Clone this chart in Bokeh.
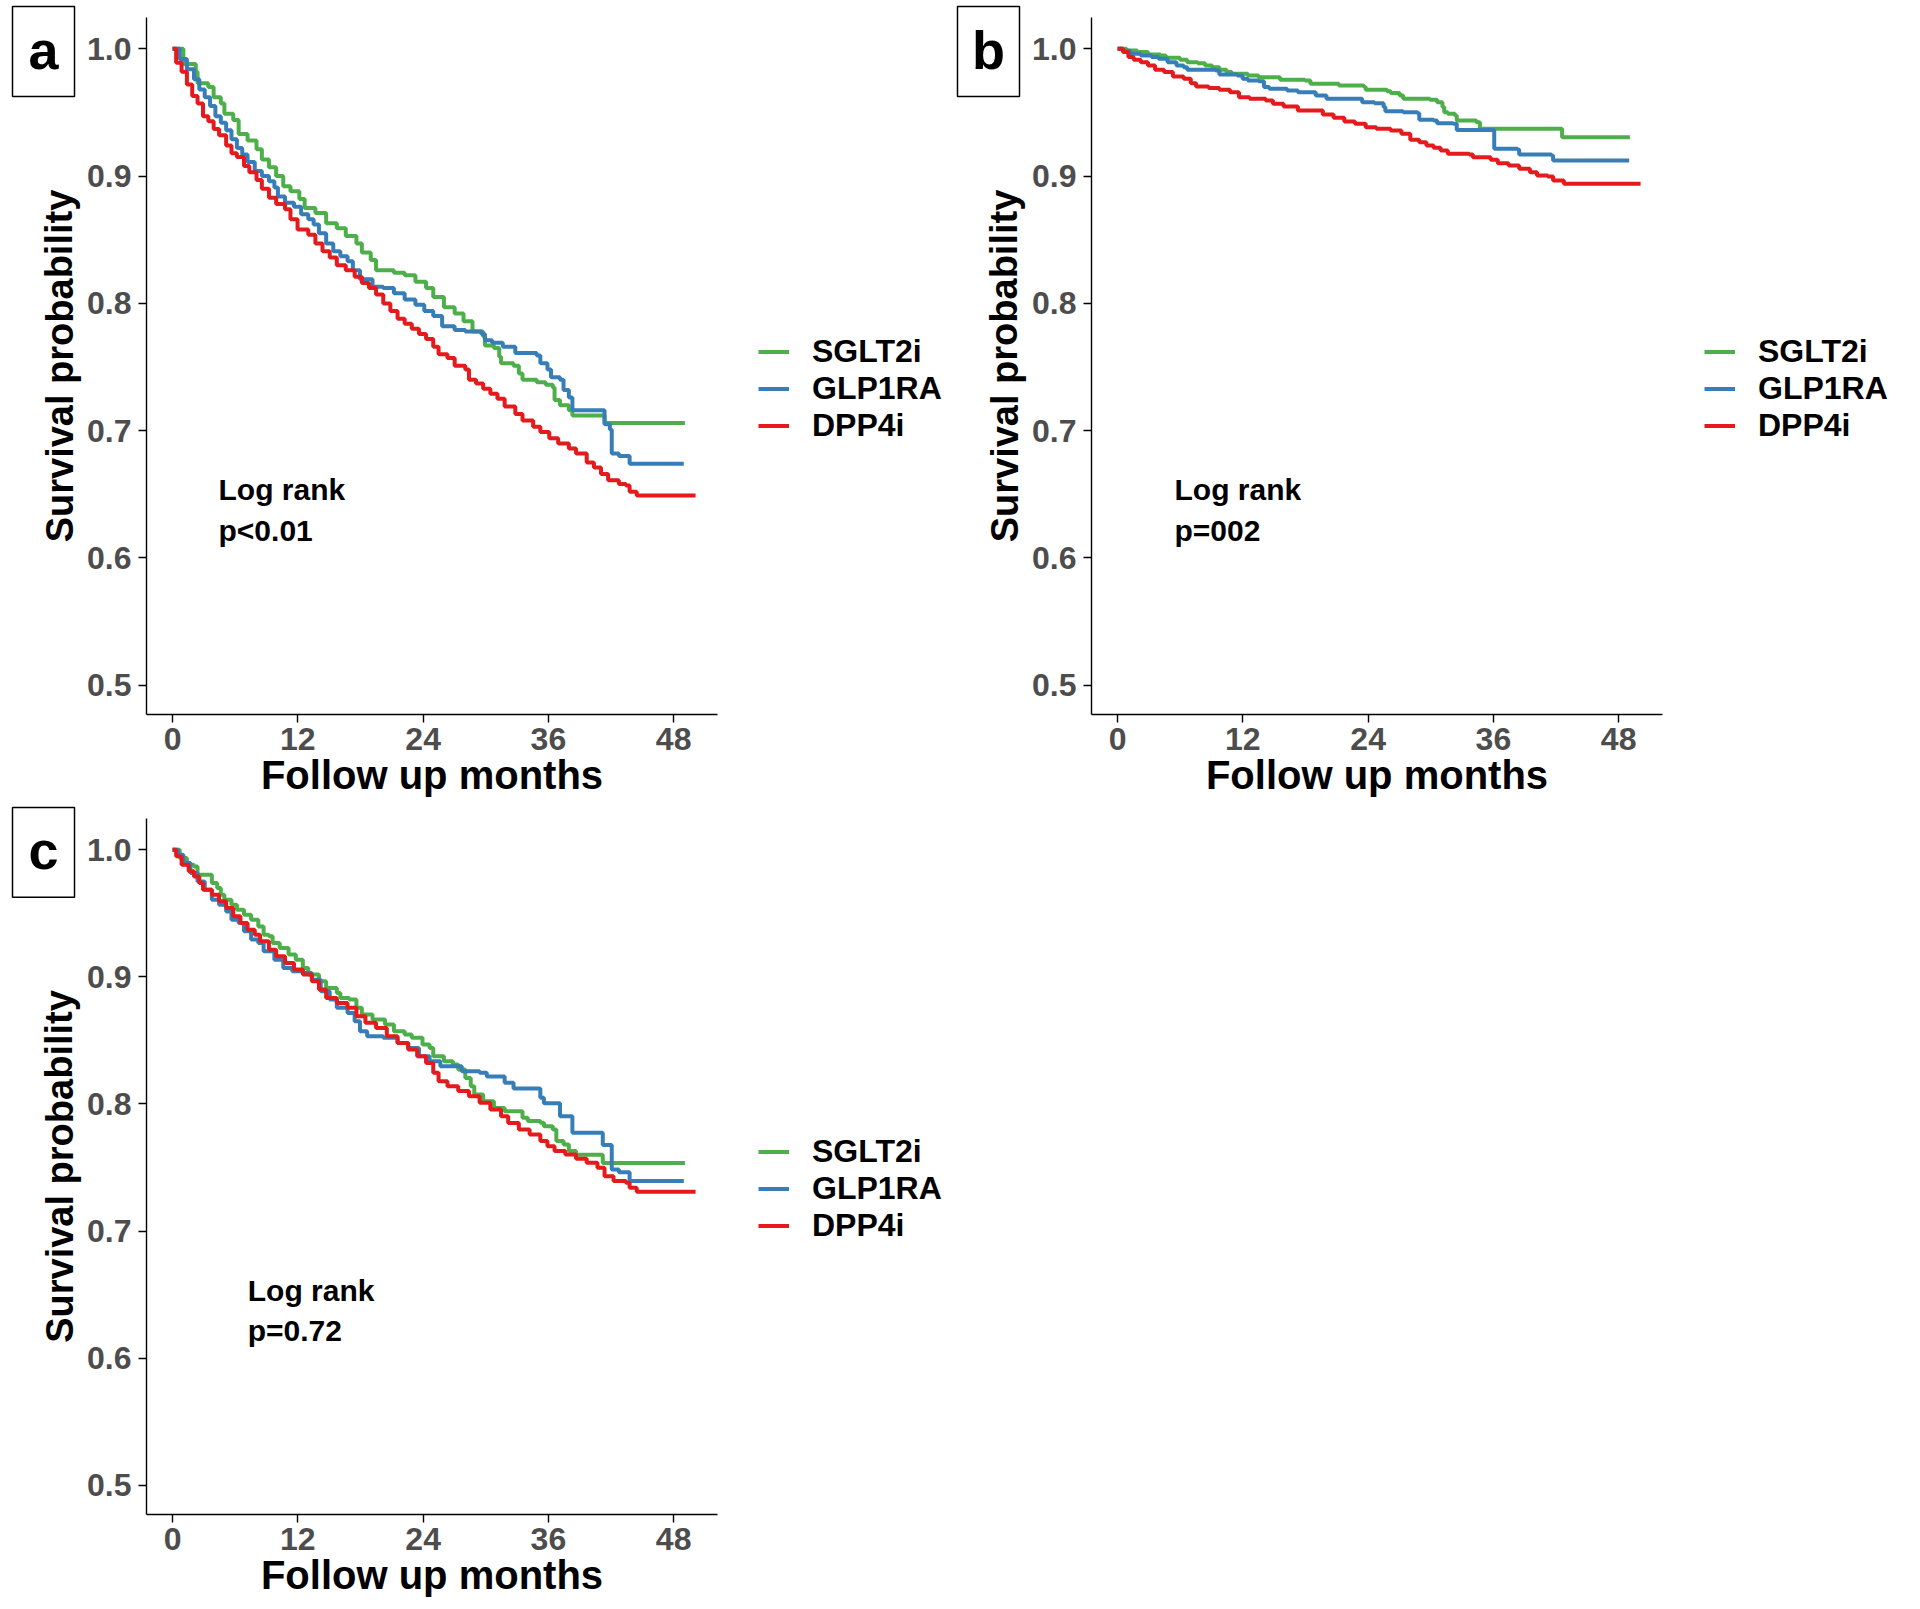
from bokeh.plotting import figure
from bokeh.models import FixedTicker, NumeralTickFormatter, Legend, LegendItem
from bokeh.layouts import column, row
from bokeh.core.properties import value
from bokeh.embed import file_html
from bokeh.resources import INLINE
import math

FONT = "Liberation Sans"
GREEN = "#4DAF4A"
BLUE = "#377EB8"
RED = "#E41A1C"

groups = ["SGLT2i", "GLP1RA", "DPP4i"]
x_ticks = [0, 12, 24, 36, 48]
y_ticks = [0.5, 0.6, 0.7, 0.8, 0.9, 1.0]
x_title = "Follow up months"
y_title = "Survival probability"

# ---------------- panel a ----------------
a_sglt2_t = [0, 1.03, 2.22, 2.39, 3.42, 3.93, 4.62, 4.96, 5.81, 6.33, 7.18, 8.04, 8.55, 9.23, 9.92,
             10.60, 11.29, 12.14, 12.65, 13.68, 14.71, 15.73, 16.59, 17.61, 18.13, 18.98, 19.49,
             21.20, 22.23, 23.26, 24.28, 24.97, 25.99, 27.02, 27.87, 28.73, 29.75, 29.92, 30.78,
             31.29, 31.46, 32.66, 33.17, 33.52, 34.88, 35.74, 36.42, 36.59, 37.11, 37.96, 38.30,
             41.38, 49.08]
a_sglt2_s = [1.0, 0.988, 0.982, 0.973, 0.970, 0.962, 0.957, 0.949, 0.944, 0.933, 0.928, 0.921, 0.913,
             0.907, 0.900, 0.892, 0.888, 0.882, 0.875, 0.871, 0.863, 0.859, 0.853, 0.847, 0.840, 0.834,
             0.826, 0.824, 0.822, 0.817, 0.812, 0.805, 0.797, 0.792, 0.786, 0.778, 0.774, 0.767, 0.765,
             0.758, 0.753, 0.751, 0.745, 0.740, 0.738, 0.736, 0.734, 0.724, 0.720, 0.716, 0.712,
             0.706, 0.706]

a_glp1_t = [0, 0.68, 1.37, 2.05, 2.56, 3.08, 3.59, 4.10, 4.62, 5.13, 5.64, 6.16, 6.67, 7.18, 7.87,
            8.55, 9.23, 9.75, 10.09, 10.77, 11.63, 12.31, 13.00, 13.51, 14.02, 14.71, 15.39, 16.07,
            16.76, 17.27, 17.95, 19.15, 20.18, 21.20, 22.23, 23.26, 24.11, 24.97, 25.82, 27.02, 28.04,
            29.58, 29.92, 30.61, 31.63, 32.83, 34.88, 35.23, 35.91, 36.25, 37.11, 37.45, 37.96,
            38.30, 41.38, 41.89, 42.07, 42.75, 43.78, 48.97]
a_glp1_s = [1.0, 0.992, 0.984, 0.976, 0.968, 0.962, 0.955, 0.947, 0.942, 0.936, 0.929, 0.922, 0.917,
            0.911, 0.904, 0.900, 0.896, 0.891, 0.884, 0.879, 0.876, 0.870, 0.866, 0.862, 0.855, 0.847,
            0.841, 0.837, 0.833, 0.826, 0.819, 0.813, 0.812, 0.808, 0.803, 0.799, 0.794, 0.790, 0.782,
            0.779, 0.778, 0.776, 0.771, 0.769, 0.766, 0.761, 0.759, 0.753, 0.748, 0.742, 0.740,
            0.732, 0.726, 0.716, 0.705, 0.701, 0.682, 0.680, 0.674, 0.674]

a_dpp4_t = [0, 0.34, 0.86, 1.37, 1.88, 2.39, 2.91, 3.42, 3.93, 4.45, 5.13, 5.64, 6.16, 6.84, 7.35,
            8.04, 8.55, 9.23, 9.92, 10.77, 11.29, 11.97, 13.00, 13.68, 14.36, 15.05, 15.73, 16.59,
            17.44, 18.13, 18.81, 19.49, 20.18, 20.86, 21.55, 22.23, 22.91, 23.60, 24.28, 24.97,
            25.48, 26.33, 27.02, 28.04, 28.39, 29.07, 29.75, 30.44, 31.12, 31.81, 32.83, 33.52,
            34.54, 35.23, 36.08, 36.94, 37.96, 38.65, 39.67, 40.36, 41.04, 41.72, 42.75, 43.43,
            43.78, 44.46, 50.10]
a_dpp4_s = [1.0, 0.989, 0.982, 0.972, 0.963, 0.957, 0.947, 0.943, 0.937, 0.932, 0.924, 0.918, 0.915,
            0.908, 0.903, 0.897, 0.890, 0.883, 0.878, 0.874, 0.866, 0.858, 0.854, 0.847, 0.841, 0.836,
            0.830, 0.826, 0.821, 0.816, 0.812, 0.807, 0.800, 0.794, 0.788, 0.784, 0.780, 0.776, 0.772,
            0.766, 0.760, 0.757, 0.751, 0.748, 0.740, 0.737, 0.733, 0.729, 0.725, 0.719, 0.713, 0.708,
            0.703, 0.699, 0.694, 0.690, 0.686, 0.682, 0.675, 0.671, 0.666, 0.661, 0.658, 0.657,
            0.652, 0.649, 0.649]

# ---------------- panel b ----------------
b_sglt2_t = [0, 0.86, 1.88, 2.91, 4.10, 4.62, 5.98, 6.67, 7.69, 8.38, 9.06, 9.75, 10.43, 10.94,
             12.48, 13.51, 15.56, 17.95, 18.47, 21.20, 23.60, 23.77, 25.82, 26.16, 27.02, 27.36,
             29.92, 30.61, 31.12, 31.29, 31.63, 32.32, 32.49, 34.37, 34.71, 42.41, 42.58, 49.08]
b_sglt2_s = [1.0, 0.9987, 0.9974, 0.9955, 0.9948, 0.9929, 0.9914, 0.9895, 0.9887, 0.9869, 0.9856,
             0.9835, 0.9817, 0.9804, 0.9790, 0.9777, 0.9756, 0.9751, 0.9725, 0.9712, 0.9699, 0.9678,
             0.9667, 0.9652, 0.9633, 0.9607, 0.9599, 0.9581, 0.9542, 0.9502, 0.9489, 0.9476, 0.9437,
             0.9424, 0.9371, 0.9371, 0.9306, 0.9306]

b_glp1_t = [0, 0.51, 1.20, 2.22, 3.25, 3.93, 4.79, 5.64, 6.33, 6.67, 9.40, 9.75, 11.46, 11.97, 12.48,
            13.51, 14.02, 14.53, 16.24, 17.27, 18.98, 20.01, 23.08, 23.43, 24.62, 25.48, 25.65,
            27.36, 28.73, 28.90, 30.27, 30.61, 32.15, 32.49, 36.08, 38.30, 38.47, 41.55, 41.72, 49.01]
b_glp1_s = [1.0, 0.9985, 0.9961, 0.9948, 0.9935, 0.9921, 0.9895, 0.9869, 0.9856, 0.9835, 0.9830,
            0.9798, 0.9790, 0.9764, 0.9751, 0.9746, 0.9699, 0.9686, 0.9673, 0.9659, 0.9633, 0.9607,
            0.9607, 0.9581, 0.9573, 0.9542, 0.9510, 0.9502, 0.9494, 0.9442, 0.9437, 0.9416, 0.9411,
            0.9363, 0.9214, 0.9209, 0.9169, 0.9162, 0.9122, 0.9122]

b_dpp4_t = [0, 0.51, 1.03, 1.54, 2.22, 2.91, 3.59, 4.45, 5.30, 6.33, 7.01, 7.52, 8.72, 9.75, 10.77,
            11.63, 12.65, 14.19, 14.88, 15.90, 17.27, 19.66, 20.69, 21.72, 22.74, 23.77, 24.79,
            26.16, 27.19, 28.04, 28.90, 29.58, 30.27, 30.95, 31.63, 33.69, 34.03, 35.74, 36.42,
            37.45, 38.47, 39.50, 40.18, 41.21, 41.72, 42.75, 50.10]
b_dpp4_s = [1.0, 0.9974, 0.9935, 0.9914, 0.9895, 0.9869, 0.9835, 0.9817, 0.9783, 0.9764, 0.9730,
            0.9704, 0.9693, 0.9678, 0.9659, 0.9620, 0.9607, 0.9594, 0.9568, 0.9547, 0.9515, 0.9484,
            0.9458, 0.9429, 0.9411, 0.9384, 0.9371, 0.9358, 0.9332, 0.9285, 0.9266, 0.9240, 0.9222,
            0.9201, 0.9175, 0.9169, 0.9149, 0.9128, 0.9101, 0.9083, 0.9057, 0.9031, 0.9004, 0.8997,
            0.8965, 0.8939, 0.8939]

# ---------------- panel c ----------------
c_sglt2_t = [0, 0.68, 1.37, 2.05, 2.39, 3.76, 4.27, 4.62, 4.96, 5.64, 6.16, 6.84, 7.52, 8.21, 8.72,
             9.23, 9.58, 10.26, 11.11, 11.80, 12.48, 13.00, 14.02, 14.71, 15.73, 16.07, 16.93, 17.61,
             18.13, 19.15, 20.35, 21.20, 22.23, 22.91, 23.94, 24.62, 24.97, 25.99, 26.85, 27.36,
             28.04, 28.56, 28.90, 29.75, 30.78, 31.81, 33.52, 34.03, 35.23, 35.57, 36.42, 36.76,
             37.45, 37.96, 38.65, 41.21, 49.08]
c_sglt2_s = [1.0, 0.9935, 0.9882, 0.9869, 0.9804, 0.9738, 0.9699, 0.9646, 0.9607, 0.9568, 0.9528,
             0.9489, 0.9450, 0.9397, 0.9332, 0.9319, 0.9266, 0.9227, 0.9175, 0.9135, 0.9070, 0.9018,
             0.8965, 0.8913, 0.8873, 0.8834, 0.8821, 0.8756, 0.8703, 0.8664, 0.8625, 0.8572, 0.8546,
             0.8520, 0.8467, 0.8441, 0.8376, 0.8336, 0.8310, 0.8271, 0.8205, 0.8140, 0.8074, 0.8022,
             0.7969, 0.7943, 0.7891, 0.7865, 0.7852, 0.7825, 0.7799, 0.7708, 0.7681, 0.7629, 0.7600,
             0.7535, 0.7535]

c_glp1_t = [0, 0.51, 1.03, 1.71, 2.39, 3.08, 3.76, 4.45, 5.13, 5.64, 6.33, 6.84, 7.52, 8.21, 8.72,
            9.75, 10.60, 11.46, 12.48, 13.34, 14.19, 15.05, 15.73, 16.76, 17.44, 17.95, 18.64, 20.18,
            21.55, 22.57, 23.60, 24.62, 25.65, 27.70, 29.41, 30.10, 31.81, 32.66, 35.23, 35.57,
            37.11, 38.30, 41.21, 42.07, 42.75, 43.78, 48.97]
c_glp1_s = [1.0, 0.9961, 0.9895, 0.9817, 0.9751, 0.9686, 0.9607, 0.9568, 0.9515, 0.9450, 0.9424,
            0.9358, 0.9293, 0.9266, 0.9201, 0.9135, 0.9070, 0.9044, 0.9031, 0.8978, 0.8887, 0.8821,
            0.8756, 0.8716, 0.8651, 0.8572, 0.8533, 0.8520, 0.8480, 0.8441, 0.8376, 0.8336, 0.8297,
            0.8258, 0.8245, 0.8216, 0.8166, 0.8122, 0.8048, 0.8006, 0.7904, 0.7773, 0.7677, 0.7485,
            0.7462, 0.7393, 0.7393]

c_dpp4_t = [0, 0.34, 0.86, 1.54, 2.05, 2.56, 2.91, 3.76, 4.45, 5.13, 5.81, 6.50, 7.18, 7.87, 8.38,
            9.23, 9.92, 10.77, 11.63, 12.48, 13.34, 14.02, 14.71, 15.73, 16.76, 17.61, 18.47, 19.49,
            20.52, 21.55, 22.57, 23.43, 24.28, 24.97, 25.48, 26.33, 27.36, 28.39, 29.41, 30.44,
            31.46, 32.15, 33.17, 34.20, 35.23, 35.91, 36.59, 37.62, 38.65, 39.67, 40.70, 41.38,
            42.24, 43.43, 43.78, 44.46, 50.10]
c_dpp4_s = [1.0, 0.9948, 0.9882, 0.9830, 0.9790, 0.9738, 0.9686, 0.9646, 0.9594, 0.9541, 0.9476,
            0.9424, 0.9371, 0.9332, 0.9280, 0.9214, 0.9162, 0.9109, 0.9057, 0.9018, 0.8965, 0.8900,
            0.8834, 0.8795, 0.8756, 0.8690, 0.8638, 0.8598, 0.8533, 0.8480, 0.8428, 0.8376, 0.8323,
            0.8245, 0.8179, 0.8140, 0.8101, 0.8061, 0.8009, 0.7956, 0.7904, 0.7851, 0.7799, 0.7760,
            0.7708, 0.7668, 0.7629, 0.7603, 0.7569, 0.7537, 0.7498, 0.7432, 0.7393, 0.7380, 0.7341,
            0.7309, 0.7309]

log_rank_title = "Log rank"
p_values = ["p<0.01", "p=002", "p=0.72"]
panel_letters = ["a", "b", "c"]
text_x = [4.4, 5.45, 7.2]

COLORS = [GREEN, BLUE, RED]
GUTTER_W = 84
FRAME_W = 571
FRAME_H = 714          # frame runs from the top of each row down to the x axis
AXIS_TOP = 17          # where the drawn y axis line starts (px below row top)
LEFT_B = 62
RIGHT_B = 8
Y_LO, Y_HI = 0.477, 1.0246
PX_PER_UNIT = (FRAME_H - AXIS_TOP) / (Y_HI - Y_LO)
Y_TOP = Y_HI + AXIS_TOP / PX_PER_UNIT


def bare_figure(width, height, xr, yr):
    f = figure(width=width, height=height, x_range=xr, y_range=yr, title=None,
               x_axis_location=None, y_axis_location=None, output_backend="svg",
               toolbar_location=None, min_border_left=0, min_border_right=0,
               min_border_top=0, min_border_bottom=height - FRAME_H)
    f.outline_line_color = None
    f.xgrid.visible = False
    f.ygrid.visible = False
    return f


def make_gutter(letter, height):
    """Narrow strip left of a panel: panel letter box and the y axis title."""
    g = bare_figure(GUTTER_W, height, (0, GUTTER_W), (0, FRAME_H))
    g.rect(x=[43], y=[FRAME_H - 51], width=[62], height=[90], fill_alpha=0,
           line_color="black", line_width=1.5)
    g.text(x=[43], y=[FRAME_H - 49], text=[letter], text_font=value(FONT),
           text_font_style="bold", text_font_size="54px", text_color="black",
           text_align="center", text_baseline="middle")
    g.text(x=[59], y=[FRAME_H - 365.5], text=[y_title], angle=[math.pi / 2],
           text_font=value(FONT), text_font_style="bold", text_font_size="38px",
           text_color="black", text_align="center", text_baseline="middle")
    return g


def make_legend_strip(width, height, key_left):
    lf = bare_figure(width, height, (0, 1), (0, 1))
    items = []
    for name, c in zip(groups, COLORS):
        r = lf.line(x=[5, 6], y=[5, 6], line_width=4, line_color=c)
        items.append(LegendItem(label=name, renderers=[r]))
    legend = Legend(items=items, location=(key_left, FRAME_H - (AXIS_TOP + 320 + 107)),
                    padding=0, margin=0, border_line_color=None, background_fill_alpha=0,
                    glyph_width=31, glyph_height=35, label_height=35, spacing=0,
                    label_standoff=23, label_text_font=FONT, label_text_font_style="bold",
                    label_text_font_size="32px", label_text_color="black")
    lf.add_layout(legend)
    return lf


def make_panel(series, ptext, tx, height):
    width = LEFT_B + FRAME_W + RIGHT_B
    p = figure(width=width, height=height, x_range=(-2.5, 52.2), y_range=(Y_LO, Y_TOP),
               output_backend="svg", toolbar_location=None, title=None,
               min_border_left=LEFT_B, min_border_right=RIGHT_B, min_border_top=0,
               min_border_bottom=height - FRAME_H)
    p.outline_line_color = None
    p.xgrid.visible = False
    p.ygrid.visible = False

    for ax in (p.xaxis[0], p.yaxis[0]):
        ax.axis_line_color = "black"
        ax.axis_line_width = 1.4
        ax.major_tick_line_color = "black"
        ax.major_tick_line_width = 1.4
        ax.major_tick_out = 8
        ax.major_tick_in = 0
        ax.minor_tick_line_color = None
        ax.major_label_text_font = FONT
        ax.major_label_text_font_style = "bold"
        ax.major_label_text_font_size = "32px"
        ax.major_label_text_color = "#4D4D4D"
        ax.axis_label_text_font = FONT
        ax.axis_label_text_font_style = "bold"
        ax.axis_label_text_font_size = "40px"
        ax.axis_label_text_color = "black"

    p.yaxis.bounds = (Y_LO, Y_HI)
    p.xaxis.ticker = FixedTicker(ticks=x_ticks)
    p.yaxis.ticker = FixedTicker(ticks=y_ticks)
    p.yaxis.formatter = NumeralTickFormatter(format="0.0")
    p.xaxis.major_label_standoff = 5
    p.yaxis.major_label_standoff = 7
    p.xaxis.axis_label = x_title
    p.xaxis.axis_label_standoff = 0

    for (t, s), c in zip(series, COLORS):
        p.step(t, s, mode="after", line_width=4, line_color=c)

    p.text(x=[tx, tx], y=[0.6534, 0.6214], text=[log_rank_title, ptext],
           text_font=value(FONT), text_font_style="bold", text_font_size="30px",
           text_color="black", text_align="left", text_baseline="middle")
    return p


H1, H2 = 801, 798
ga = make_gutter(panel_letters[0], H1)
pa = make_panel([(a_sglt2_t, a_sglt2_s), (a_glp1_t, a_glp1_s), (a_dpp4_t, a_dpp4_s)],
                p_values[0], text_x[0], H1)
la = make_legend_strip(220, H1, 33)
gb = make_gutter(panel_letters[1], H1)
pb = make_panel([(b_sglt2_t, b_sglt2_s), (b_glp1_t, b_glp1_s), (b_dpp4_t, b_dpp4_s)],
                p_values[1], text_x[1], H1)
lb = make_legend_strip(240, H1, 34)
gc = make_gutter(panel_letters[2], H2)
pc = make_panel([(c_sglt2_t, c_sglt2_s), (c_glp1_t, c_glp1_s), (c_dpp4_t, c_dpp4_s)],
                p_values[2], text_x[2], H2)
lc = make_legend_strip(220, H2, 33)

layout = column(row(ga, pa, la, gb, pb, lb), row(gc, pc, lc))
open("out.html", "w").write(file_html(layout, INLINE))
